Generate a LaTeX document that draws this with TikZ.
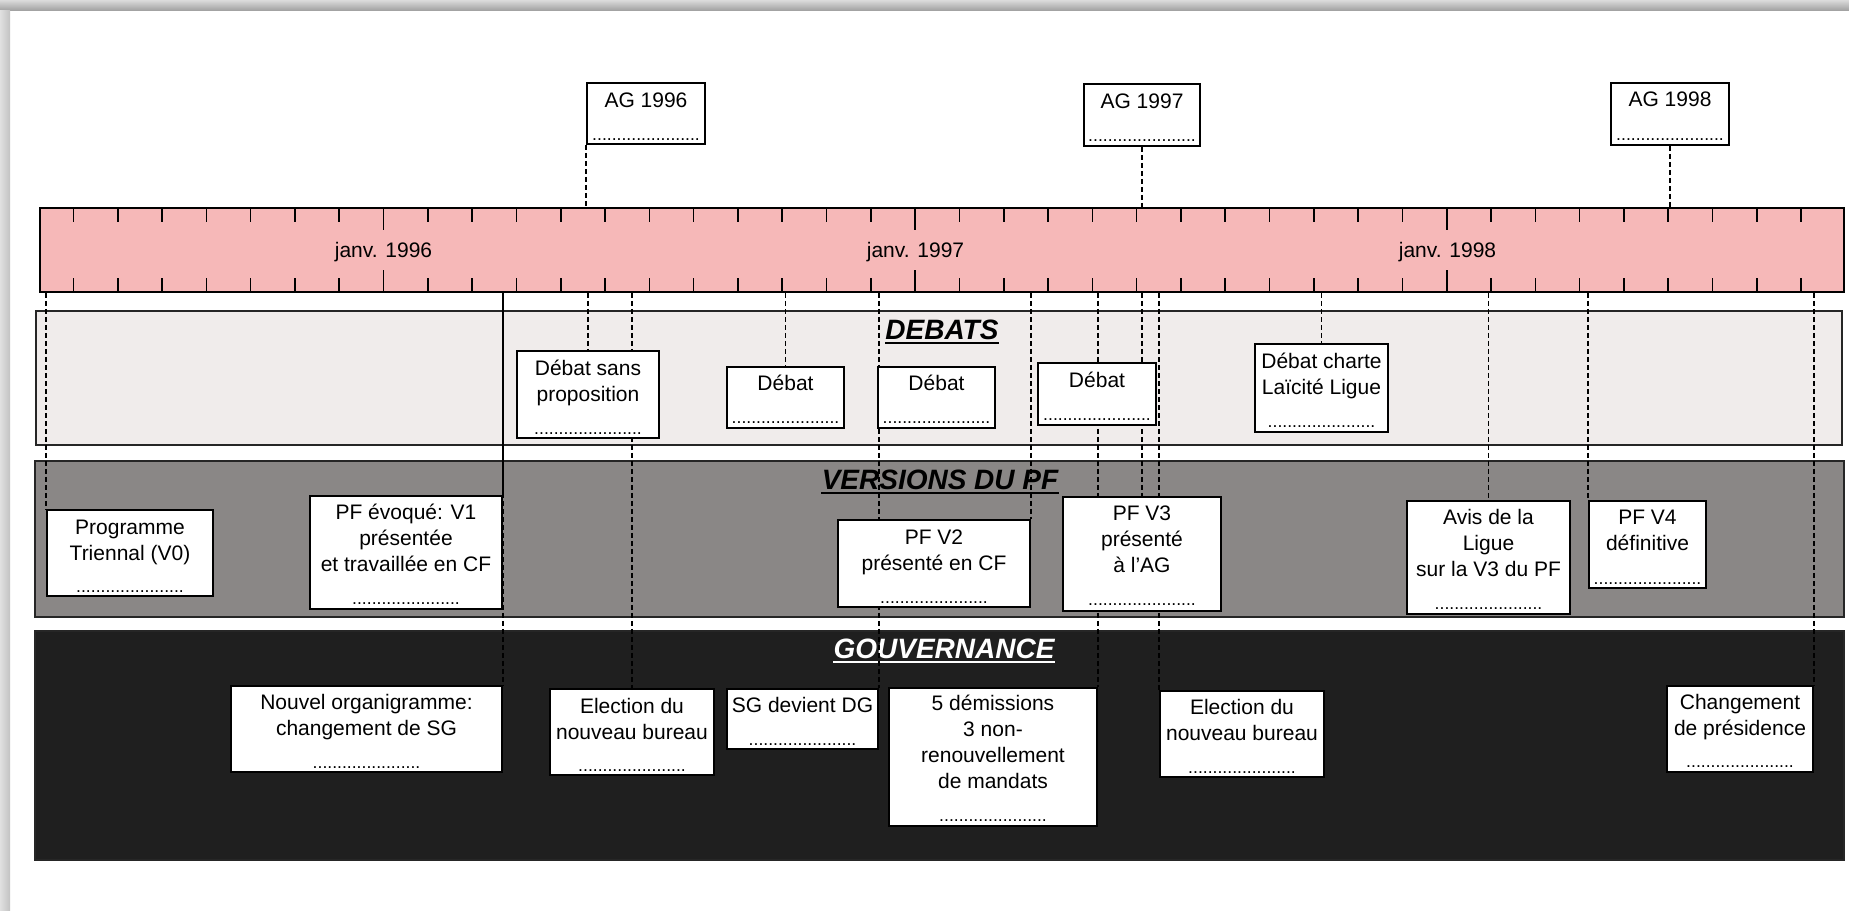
\documentclass[tikz,border=0pt]{standalone}
\usepackage{fontspec}
\setmainfont{Liberation Sans}
\usetikzlibrary{fit}

\definecolor{barpink}{RGB}{246,184,184}
\definecolor{debfill}{RGB}{240,236,235}
\definecolor{verfill}{RGB}{138,135,134}
\definecolor{gouvfill}{RGB}{31,31,31}

\pgfdeclarelayer{back}
\pgfdeclarelayer{links}
\pgfsetlayers{back,links,main}

\tikzset{
  evbox/.style={draw, fill=white, line width=0.9pt, inner sep=0pt},
  evtext/.style={anchor=north, align=center, inner sep=0pt, font=\fontsize{10.5}{13}\selectfont},
  evdots/.style={anchor=base, inner sep=0pt, font=\fontsize{8.8}{10}\selectfont},
  link/.style={line width=0.65pt, dash pattern=on 2.5pt off 1.5pt},
  monthtick/.style={line width=0.8pt},
  lane/.style={draw=black!85, line width=0.75pt},
  lanetitle/.style={anchor=base, inner sep=0pt, font=\fontsize{14}{16}\selectfont\bfseries\itshape},
}
\newcommand{\dotrow}{......................}

\begin{document}
\begin{tikzpicture}[x=0.5pt, y=-0.5pt]
			\useasboundingbox (0,0) rectangle (1849,911);
			% window edge
			\shade[top color=black!14, bottom color=black!36] (0,0) rectangle (1849,10);
			\shade[left color=black!12, right color=black!24] (0,10) rectangle (10,911);

			% time bar
			\node[draw, fill=barpink, line width=0.9pt, inner sep=0pt, fit={(40,208) (1844,292)}] (bar) {};
			\foreach \m in {-7,...,32}{
				\pgfmathsetmacro{\tx}{383.5+44.3*\m}
				\pgfmathsetmacro{\tl}{ifthenelse(mod(\m+24,12)==0,22,14)}
				\draw[monthtick] (\tx,208) -- ++(0,\tl);
				\draw[monthtick] (\tx,292) -- ++(0,-\tl);
			}
			\node[anchor=base, font=\fontsize{10.5}{13}\selectfont] (jan96) at (383.5,257) {janv. 1996};
			\node[anchor=base, font=\fontsize{10.5}{13}\selectfont] (jan97) at (915.5,257) {janv. 1997};
			\node[anchor=base, font=\fontsize{10.5}{13}\selectfont] (jan98) at (1447.5,257) {janv. 1998};

			% lanes
			\begin{pgfonlayer}{back}
				\filldraw[lane, fill=debfill] (36,311) rectangle (1842,445);
				\filldraw[lane, fill=verfill] (35,461) rectangle (1844,617);
				\filldraw[lane, fill=gouvfill] (35,631) rectangle (1844,860);
				\node[lanetitle] (tdeb) at (942,339) {DEBATS};
				\node[lanetitle] (tver) at (940,489) {VERSIONS DU PF};
				\node[lanetitle, text=white] (tgouv) at (944,658) {GOUVERNANCE};
				\draw[line width=1.3pt] ([yshift=-2pt]tdeb.base west) -- ([yshift=-2pt]tdeb.base east);
				\draw[line width=1.3pt] ([yshift=-2pt]tver.base west) -- ([yshift=-2pt]tver.base east);
				\draw[line width=1.3pt, white] ([yshift=-2pt]tgouv.base west) -- ([yshift=-2pt]tgouv.base east);
			\end{pgfonlayer}

			% AG
			\node[evbox, fit={(587,83) (705,144)}] (ag96) {};
			\node[evtext] (ag96t) at (646,89) {\strut AG 1996};
			\node[evdots] (ag96d) at (646,140) {\dotrow};
			\node[evbox, fit={(1084,84) (1200,146)}] (ag97) {};
			\node[evtext] (ag97t) at (1142,90) {\strut AG 1997};
			\node[evdots] (ag97d) at (1142,141) {\dotrow};
			\node[evbox, fit={(1611,83) (1729,145)}] (ag98) {};
			\node[evtext] (ag98t) at (1670,88) {\strut AG 1998};
			\node[evdots] (ag98d) at (1670,140) {\dotrow};

			% debats
			\node[evbox, fit={(517,351) (659,438)}] (debsp) {};
			\node[evtext] (debspt) at (588,357) {\strut Débat sans\\proposition};
			\node[evdots] (debspd) at (588,434) {\dotrow};
			\node[evbox, fit={(727,367) (844,428)}] (deb1) {};
			\node[evtext] (deb1t) at (785.5,372) {\strut Débat};
			\node[evdots] (deb1d) at (785.5,423) {\dotrow};
			\node[evbox, fit={(878,367) (995,428)}] (deb2) {};
			\node[evtext] (deb2t) at (936.5,372) {\strut Débat};
			\node[evdots] (deb2d) at (936.5,423) {\dotrow};
			\node[evbox, fit={(1038,363) (1156,425)}] (deb3) {};
			\node[evtext] (deb3t) at (1097,369) {\strut Débat};
			\node[evdots] (deb3d) at (1097,420) {\dotrow};
			\node[evbox, fit={(1255,344) (1388,432)}] (debch) {};
			\node[evtext] (debcht) at (1321.5,350) {\strut Débat charte\\Laïcité Ligue};
			\node[evdots] (debchd) at (1321.5,427) {\dotrow};

			% versions du PF
			\node[evbox, fit={(47,510) (213,596)}] (prog) {};
			\node[evtext] (progt) at (130,516) {\strut Programme\\Triennal (V0)};
			\node[evdots] (progd) at (130,592) {\dotrow};
			\node[evbox, fit={(310,496) (502,609)}] (pfv1) {};
			\node[evtext] (pfv1t) at (406,501) {\strut PF évoqué: V1\\présentée\\et travaillée en CF};
			\node[evdots] (pfv1d) at (406,604) {\dotrow};
			\node[evbox, fit={(838,520) (1030,607)}] (pfv2) {};
			\node[evtext] (pfv2t) at (934,526) {\strut PF V2\\présenté en CF};
			\node[evdots] (pfv2d) at (934,603) {\dotrow};
			\node[evbox, fit={(1063,497) (1221,611)}] (pfv3) {};
			\node[evtext] (pfv3t) at (1142,502) {\strut PF V3\\présenté\\à l'AG};
			\node[evdots] (pfv3d) at (1142,605) {\dotrow};
			\node[evbox, fit={(1407,501) (1570,614)}] (avis) {};
			\node[evtext] (avist) at (1488.5,506) {\strut Avis de la\\Ligue\\sur la V3 du PF};
			\node[evdots] (avisd) at (1488.5,609) {\dotrow};
			\node[evbox, fit={(1589,501) (1706,588)}] (pfv4) {};
			\node[evtext] (pfv4t) at (1647.5,506) {\strut PF V4\\définitive};
			\node[evdots] (pfv4d) at (1647.5,584) {\dotrow};

			% gouvernance
			\node[evbox, fit={(231,686) (502,772)}] (orga) {};
			\node[evtext] (orgat) at (366.5,691) {\strut Nouvel organigramme:\\changement de SG};
			\node[evdots] (orgad) at (366.5,768) {\dotrow};
			\node[evbox, fit={(550,689) (714,775)}] (elec1) {};
			\node[evtext] (elec1t) at (632,695) {\strut Election du\\nouveau bureau};
			\node[evdots] (elec1d) at (632,771) {\dotrow};
			\node[evbox, fit={(727,689) (878,749)}] (sgdg) {};
			\node[evtext] (sgdgt) at (802.5,694) {\strut SG devient DG};
			\node[evdots] (sgdgd) at (802.5,745) {\dotrow};
			\node[evbox, fit={(889,688) (1097,826)}] (dem) {};
			\node[evtext] (demt) at (993,692) {\strut 5 démissions\\3 non-\\renouvellement\\de mandats};
			\node[evdots] (demd) at (993,821) {\dotrow};
			\node[evbox, fit={(1160,691) (1324,777)}] (elec2) {};
			\node[evtext] (elec2t) at (1242,696) {\strut Election du\\nouveau bureau};
			\node[evdots] (elec2d) at (1242,773) {\dotrow};
			\node[evbox, fit={(1667,686) (1813,772)}] (chpres) {};
			\node[evtext] (chprest) at (1740,691) {\strut Changement\\de présidence};
			\node[evdots] (chpresd) at (1740,767) {\dotrow};

			% links to the time bar
			\begin{pgfonlayer}{links}
				\draw[link] (ag96.south west) -- (bar.north -| ag96.south west);
				\draw[link] (ag97.south) -- (bar.north -| ag97.south);
				\draw[link] (ag98.south) -- (bar.north -| ag98.south);
				\draw[link] (bar.south -| prog.north west) -- (prog.north west);
				\draw[link] (bar.south -| orga.north east) -- (orga.north east);
				\draw[line width=0.8pt] (bar.south -| pfv1.north east) -- (pfv1.north east);
				\draw[link] (bar.south -| debsp.north) -- (debsp.north);
				\draw[link] (bar.south -| elec1.north) -- (elec1.north);
				\draw[link] (bar.south -| deb1.north) -- (deb1.north);
				\draw[link] (bar.south -| sgdg.north east) -- (sgdg.north east);
				\draw[link] (bar.south -| pfv2.north east) -- (pfv2.north east);
				\draw[link] (bar.south -| dem.north east) -- (dem.north east);
				\draw[link] (bar.south -| pfv3.north) -- (pfv3.north);
				\draw[link] (bar.south -| elec2.north west) -- (elec2.north west);
				\draw[link] (bar.south -| debch.north) -- (debch.north);
				\draw[link] (bar.south -| avis.north) -- (avis.north);
				\draw[link] (bar.south -| pfv4.north west) -- (pfv4.north west);
				\draw[link] (bar.south -| chpres.north east) -- (chpres.north east);
			\end{pgfonlayer}
		\end{tikzpicture}
\end{document}
